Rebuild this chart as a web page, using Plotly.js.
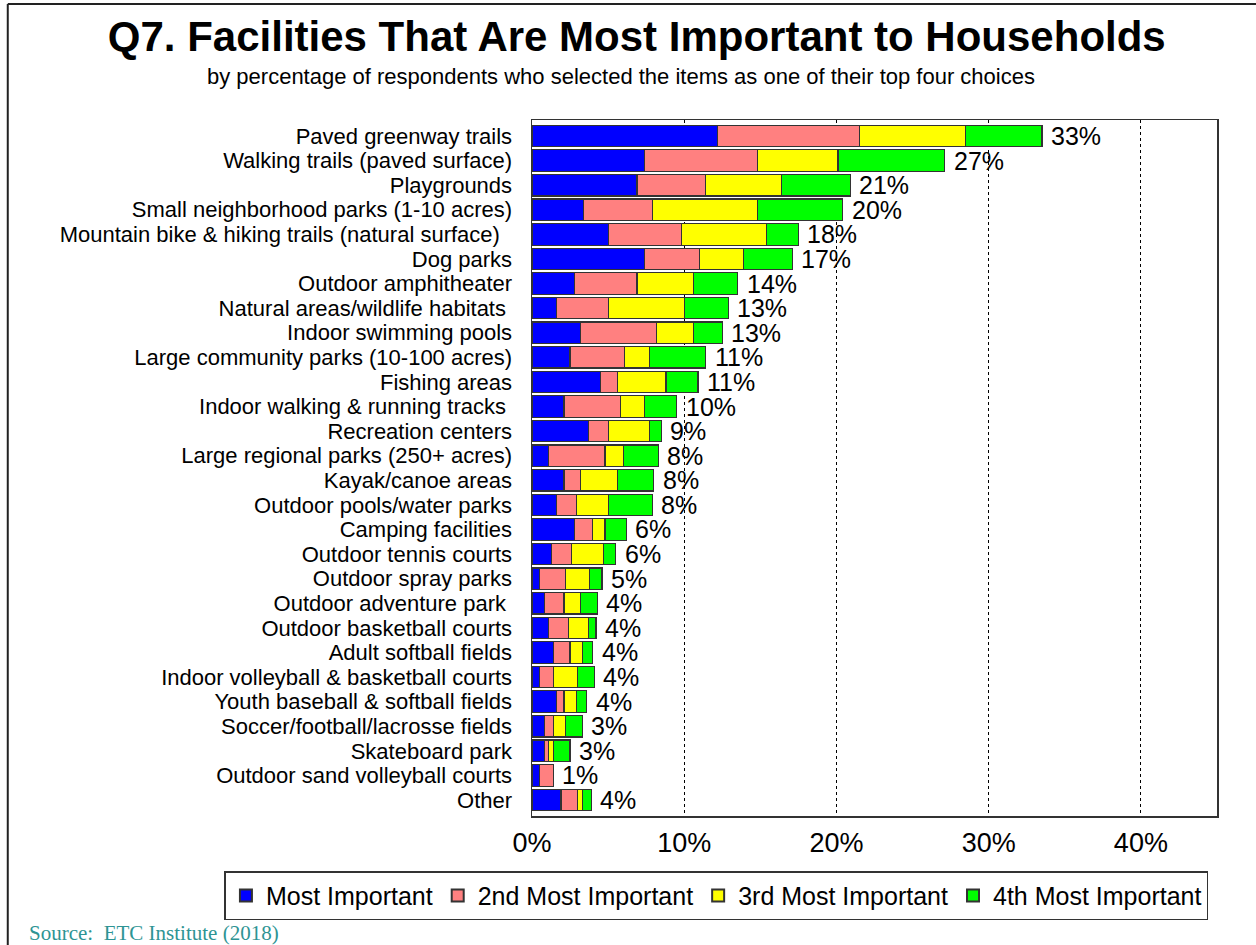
<!DOCTYPE html>
<html>
<head>
<meta charset="utf-8">
<script src="https://cdn.plot.ly/plotly-3.0.1.min.js"></script>
<style>
  html, body { margin: 0; padding: 0; background: #ffffff; }
  #chart { width: 1256px; height: 945px; }
</style>
</head>
<body>
<div id="chart"></div>
<script>
// ---- Data (percent of respondents) ----
var categories = [
  "Paved greenway trails",
  "Walking trails (paved surface)",
  "Playgrounds",
  "Small neighborhood parks (1-10 acres)",
  "Mountain bike & hiking trails (natural surface)\u00a0\u00a0",
  "Dog parks",
  "Outdoor amphitheater",
  "Natural areas/wildlife habitats\u00a0",
  "Indoor swimming pools",
  "Large community parks (10-100 acres)",
  "Fishing areas",
  "Indoor walking & running tracks\u00a0",
  "Recreation centers",
  "Large regional parks (250+ acres)",
  "Kayak/canoe areas",
  "Outdoor pools/water parks",
  "Camping facilities",
  "Outdoor tennis courts",
  "Outdoor spray parks",
  "Outdoor adventure park\u00a0",
  "Outdoor basketball courts",
  "Adult softball fields",
  "Indoor volleyball & basketball courts",
  "Youth baseball & softball fields",
  "Soccer/football/lacrosse fields",
  "Skateboard park",
  "Outdoor sand volleyball courts",
  "Other"
];

var mostImportant   = [12.2, 7.4, 6.9, 3.4, 5.0, 7.4, 2.8, 1.6, 3.2, 2.5, 4.5, 2.1, 3.7, 1.1, 2.1, 1.6, 2.8, 1.3, 0.5, 0.8, 1.1, 1.4, 0.5, 1.6, 0.8, 0.8, 0.5, 1.9];
var secondImportant = [9.3, 7.4, 4.5, 4.5, 4.8, 3.6, 4.1, 3.4, 5.0, 3.6, 1.1, 3.7, 1.3, 3.7, 1.1, 1.3, 1.2, 1.3, 1.7, 1.3, 1.3, 1.1, 0.9, 0.5, 0.6, 0.3, 0.9, 1.1];
var thirdImportant  = [7.0, 5.3, 5.0, 6.9, 5.6, 2.9, 3.7, 5.0, 2.4, 1.6, 3.2, 1.6, 2.7, 1.2, 2.4, 2.1, 0.8, 2.1, 1.6, 1.1, 1.3, 0.8, 1.6, 0.8, 0.8, 0.3, 0.0, 0.3];
var fourthImportant = [5.0, 7.0, 4.5, 5.6, 2.1, 3.2, 2.9, 2.9, 1.9, 3.7, 2.1, 2.1, 0.8, 2.3, 2.4, 2.9, 1.4, 0.8, 0.8, 1.1, 0.5, 0.7, 1.1, 0.7, 1.1, 1.1, 0.0, 0.6];

var totalLabels = ["33%","27%","21%","20%","18%","17%","14%","13%","13%","11%","11%","10%","9%","8%","8%","8%","6%","6%","5%","4%","4%","4%","4%","4%","3%","3%","1%","4%"];

var seriesNames  = ["Most Important", "2nd Most Important", "3rd Most Important", "4th Most Important"];
var seriesColors = ["#0000FF", "#FF8080", "#FFFF00", "#00FF00"];
var xTickValues  = [0, 10, 20, 30, 40];
var xTickLabels  = ["0%", "10%", "20%", "30%", "40%"];

// ---- Build traces ----
var seriesValues = [mostImportant, secondImportant, thirdImportant, fourthImportant];
var FONT = 'Arial, "Liberation Sans", sans-serif';

var traces = seriesValues.map(function (vals, i) {
  return {
    type: 'bar',
    orientation: 'h',
    name: seriesNames[i],
    x: vals,
    y: categories,
    marker: { color: seriesColors[i], line: { color: '#333333', width: 1.2 } },
    hoverinfo: 'x+y+name'
  };
});

var totals = categories.map(function (c, k) {
  return mostImportant[k] + secondImportant[k] + thirdImportant[k] + fourthImportant[k];
});

var annotations = categories.map(function (c, k) {
  return {
    x: totals[k], y: c, xref: 'x', yref: 'y',
    text: totalLabels[k], showarrow: false,
    xanchor: 'left', yanchor: 'middle', xshift: 7,
    font: { family: FONT, size: 25, color: '#000000' }
  };
});

annotations.push({
  xref: 'paper', yref: 'paper', x: 0.1293, y: 1.0632,
  xanchor: 'center', yanchor: 'middle', showarrow: false,
  text: 'by percentage of respondents who selected the items as one of their top four choices',
  font: { family: FONT, size: 22, color: '#000000' }
});
annotations.push({
  xref: 'paper', yref: 'paper', x: -0.7376, y: -0.1681,
  xanchor: 'left', yanchor: 'middle', showarrow: false,
  text: 'Source:&nbsp; ETC Institute (2018)',
  font: { family: '"Times New Roman", "Liberation Serif", serif', size: 21, color: '#2E9494' }
});

var layout = {
  width: 1256, height: 945,
  margin: { l: 532, r: 39, t: 120, b: 129 },
  paper_bgcolor: '#ffffff',
  plot_bgcolor: '#ffffff',
  barmode: 'stack',
  bargap: 0.127,
  title: {
    text: '<b>Q7. Facilities That Are Most Important to Households</b>',
    xref: 'container', yref: 'container',
    x: 0.507, xanchor: 'center', y: 1 - 36 / 945, yanchor: 'middle',
    font: { family: FONT, size: 42, color: '#000000' }
  },
  xaxis: {
    range: [0, 45],
    tickvals: xTickValues,
    ticktext: xTickLabels,
    showgrid: true,
    gridcolor: '#000000',
    gridwidth: 1,
    griddash: '3px,3px',
    zeroline: false,
    showline: true, mirror: true, linecolor: '#333333', linewidth: 1.5,
    ticks: '',
    ticklabelstandoff: 2,
    tickfont: { family: FONT, size: 27, color: '#000000' },
    fixedrange: true
  },
  yaxis: {
    type: 'category',
    autorange: 'reversed',
    tickmode: 'array',
    tickvals: categories,
    ticktext: categories,
    showgrid: false,
    zeroline: false,
    showline: true, mirror: true, linecolor: '#333333', linewidth: 1.5,
    ticks: '',
    ticklabelstandoff: 14,
    tickfont: { family: FONT, size: 22, color: '#000000' },
    fixedrange: true
  },
  showlegend: true,
  legend: {
    orientation: 'h',
    traceorder: 'normal',
    xref: 'paper', yref: 'paper',
    x: -0.449, xanchor: 'left',
    y: -0.0795, yanchor: 'top',
    bordercolor: '#333333', borderwidth: 1.5,
    bgcolor: '#ffffff',
    font: { family: FONT, size: 25, color: '#000000' },
    itemsizing: 'constant'
  },
  annotations: annotations,
  shapes: [
    { type: 'line', xref: 'paper', yref: 'paper', x0: -0.7653, x1: 1.06, y0: 1.1667, y1: 1.1667,
      line: { color: '#222222', width: 2 } },
    { type: 'line', xref: 'paper', yref: 'paper', x0: -0.7653, x1: -0.7653, y0: 1.1667, y1: -0.19,
      line: { color: '#222222', width: 2 } }
  ]
};

Plotly.newPlot('chart', traces, layout, { displayModeBar: false, staticPlot: true });
</script>
</body>
</html>
